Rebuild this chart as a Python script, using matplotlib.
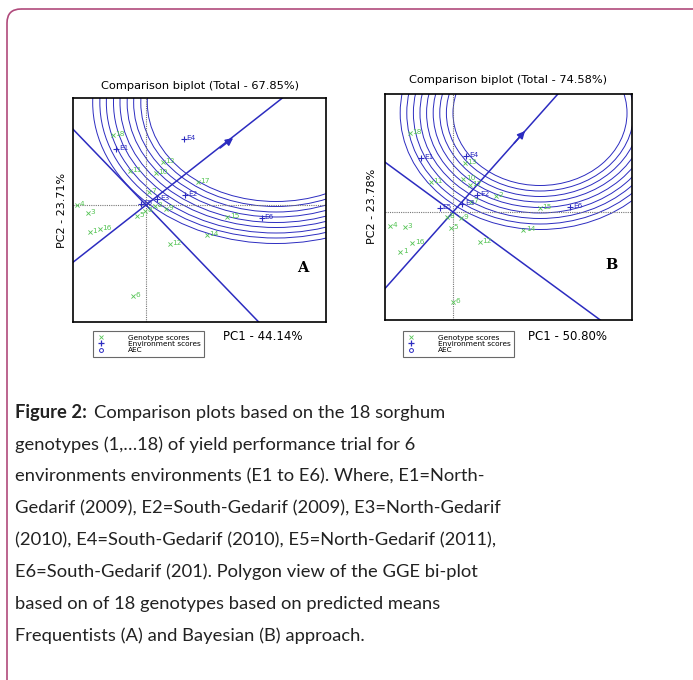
import matplotlib.pyplot as plt
from matplotlib.patches import Circle, FancyBboxPatch
from matplotlib.lines import Line2D

W, H = 693, 680
GREEN = "#55c455"
BLUE = "#2c2cc0"

geno_labels = ["1", "2", "3", "4", "5", "6", "7", "8", "9", "10",
               "11", "12", "13", "14", "15", "16", "17", "18"]
env_labels = ["E1", "E2", "E3", "E4", "E5", "E6"]

# panel A (frequentist) scores, PC1 / PC2
genoA_x = [-0.86, 0.14, -0.89, -1.06, -0.14, -0.20, 0.04, -0.02, 0.30,
           0.15, -0.25, 0.37, 0.26, 0.94, 1.25, -0.71, 0.80, -0.51]
genoA_y = [-0.54, -0.02, -0.16, 0.00, -0.22, -1.82, 0.26, -0.12, -0.08,
           0.64, 0.68, -0.78, 0.86, -0.60, -0.24, -0.48, 0.46, 1.40]
envA_x = [-0.46, 0.60, 0.17, 0.58, -0.08, 1.78]
envA_y = [1.12, 0.20, 0.12, 1.32, 0.02, -0.26]
ringsA = [1.98, 2.08, 2.19, 2.29, 2.40, 2.50, 2.61, 2.71, 2.82]
centerA = (2.0, 2.05)
tipA = (1.34, 1.34)

# panel B (bayesian) scores
genoB_x = [-0.88, 0.72, -0.80, -1.05, -0.03, 0.00, 0.30, -0.10, 0.14,
           0.17, -0.37, 0.45, 0.20, 1.17, 1.45, -0.68, 0.28, -0.72]
genoB_y = [-0.80, 0.32, -0.30, -0.28, -0.32, -1.80, 0.20, -0.10, -0.12,
           0.66, 0.60, -0.60, 0.98, -0.36, 0.08, -0.62, 0.54, 1.58]
envB_x = [-0.53, 0.40, 0.15, 0.22, -0.22, 1.95]
envB_y = [1.08, 0.34, 0.16, 1.12, 0.08, 0.10]
ringsB = [1.45, 1.56, 1.67, 1.78, 1.89, 2.00, 2.11, 2.22, 2.33]
centerB = (1.45, 1.98)
tipB = (1.20, 1.62)

caption = [
    "genotypes (1,\u202618) of yield performance trial for 6",
    "environments environments (E1 to E6). Where, E1=North-",
    "Gedarif (2009), E2=South-Gedarif (2009), E3=North-Gedarif",
    "(2010), E4=South-Gedarif (2010), E5=North-Gedarif (2011),",
    "E6=South-Gedarif (201). Polygon view of the GGE bi-plot",
    "based on of 18 genotypes based on predicted means",
    "Frequentists (A) and Bayesian (B) approach.",
]

plt.rcParams["font.family"] = ["DejaVu Sans"]
fig = plt.figure(figsize=(W / 100, H / 100), dpi=100)

bg = fig.add_axes([0, 0, 1, 1])
bg.set_xlim(0, W)
bg.set_ylim(H, 0)
bg.axis("off")
bg.add_patch(FancyBboxPatch((7, 9), 740, 720, boxstyle="round,pad=0,rounding_size=14",
                            ec="#b04a7c", fc="none", lw=1.2))


def panel(box, xlim, ylim, gx, gy, ex, ey, center, rings, s_aec, s_perp, tip, letter, lpos):
    l, t, r, b = box
    ax = fig.add_axes([l / W, 1 - b / H, (r - l) / W, (b - t) / H])
    ax.set_xlim(*xlim)
    ax.set_ylim(*ylim)
    for rad in rings:
        ax.add_patch(Circle(center, rad, fill=False, ec=BLUE, lw=0.7))
    ax.axhline(0, color="#777", ls=(0, (1, 1)), lw=0.8)
    ax.axvline(0, color="#777", ls=(0, (1, 1)), lw=0.8)
    ax.axline((0, 0), slope=s_aec, color=BLUE, lw=1.1)
    ax.axline((0, 0), slope=s_perp, color=BLUE, lw=1.1)
    ax.annotate("", xy=tip, xytext=(tip[0] * 0.85, tip[1] * 0.85),
                arrowprops=dict(arrowstyle="-|>", color=BLUE, lw=1.1, mutation_scale=11,
                                shrinkA=0, shrinkB=0))
    ax.scatter(gx, gy, marker="x", s=9, color=GREEN, lw=0.6, zorder=3)
    for x, y, s in zip(gx, gy, geno_labels):
        ax.annotate(s, (x, y), xytext=(1.8, 0.6), textcoords="offset points",
                    fontsize=5.3, color=GREEN, va="center")
    ax.scatter(ex, ey, marker="+", s=18, color=BLUE, lw=0.8, zorder=3)
    for x, y, s in zip(ex, ey, env_labels):
        ax.annotate(s, (x, y), xytext=(2.0, 0.6), textcoords="offset points",
                    fontsize=5.3, color=BLUE, va="center")
    ax.text(*lpos, letter, transform=ax.transAxes, fontsize=10.5, fontweight="bold",
            family="DejaVu Serif", ha="center", va="center")
    ax.set_xticks([])
    ax.set_yticks([])
    for sp in ax.spines.values():
        sp.set_linewidth(1.2)
    return ax


panel((73, 98, 326, 322), (-1.123, 2.769), (-2.34, 2.14), genoA_x, genoA_y, envA_x, envA_y,
      centerA, ringsA, 1.02, -1.35, tipA, "A", (0.91, 0.24))
panel((385, 94, 632, 320), (-1.133, 2.983), (-2.16, 2.36), genoB_x, genoB_y, envB_x, envB_y,
      centerB, ringsB, 1.35, -0.88, tipB, "B", (0.915, 0.245))

bg.text(200, 86, "Comparison biplot (Total - 67.85%)", fontsize=8.2, ha="center", va="center")
bg.text(508, 80, "Comparison biplot (Total - 74.58%)", fontsize=8.2, ha="center", va="center")
bg.text(62, 210, "PC2 - 23.71%", fontsize=8, rotation=90, ha="center", va="center")
bg.text(372, 206, "PC2 - 23.78%", fontsize=8, rotation=90, ha="center", va="center")
bg.text(223, 337, "PC1 - 44.14%", fontsize=8.5, ha="left", va="center")
bg.text(528, 337, "PC1 - 50.80%", fontsize=8.5, ha="left", va="center")

handles = [Line2D([], [], marker="x", ls="", color=GREEN, ms=2.8, mew=0.6),
           Line2D([], [], marker="+", ls="", color=BLUE, ms=3.8, mew=0.9),
           Line2D([], [], marker="o", ls="", mfc="none", mec=BLUE, ms=2.8, mew=0.7)]
for lx in (93, 403):
    leg = fig.legend(handles, ["Genotype scores", "Environment scores", "AEC"], loc="upper left",
                     bbox_to_anchor=(lx / W, 1 - 331 / H), fontsize=5.3, frameon=True, fancybox=False,
                     edgecolor="#444", borderpad=0.5, labelspacing=0.0, handlelength=1.2,
                     handletextpad=3.0, borderaxespad=0)
    leg.get_frame().set_linewidth(0.8)

CAP = 13.25
bg.text(15, 418, "Figure 2:", fontsize=CAP, fontweight="bold", family="Lato", color="#222", va="baseline")
bg.text(94, 418, "Comparison plots based on the 18 sorghum", fontsize=CAP, family="Lato",
        color="#222", va="baseline")
for i, line in enumerate(caption):
    bg.text(15, 418 + 31.8 * (i + 1), line, fontsize=CAP, family="Lato", color="#222", va="baseline")

fig.savefig("out.png", dpi=100)
